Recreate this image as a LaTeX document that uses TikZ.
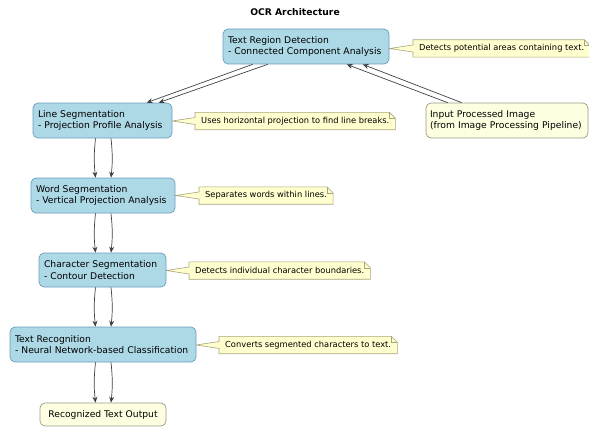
\documentclass[tikz,border=0pt]{standalone}
\usepackage{fontspec}
\setmainfont{DejaVu Sans}
\usetikzlibrary{arrows.meta,calc,backgrounds}
\definecolor{boxfill}{HTML}{ADD8E6}
\definecolor{boxline}{HTML}{6A9CBC}
\definecolor{palefill}{HTML}{FEFEE0}
\definecolor{paleline}{HTML}{9A9A8A}
\definecolor{notefill}{HTML}{FEFECE}
\definecolor{noteline}{HTML}{A8A47A}
\definecolor{arrowgrey}{HTML}{404040}
\newcommand\drawnote[2]{%
  \draw[noteshape] (#1.north west) -- ($(#1.north east)+(-6,0)$) -- ($(#1.north east)+(0,6)$) -- (#1.south east) -- (#1.south west) -- ($(#1.west)+(0,3.5)$) -- (#2.east |- #1.west) -- ($(#1.west)+(0,-3.5)$) -- cycle;
  \draw[noteshape, fill=none] ($(#1.north east)+(-6,0)$) -- ($(#1.north east)+(-6,6)$) -- ($(#1.north east)+(0,6)$);
}
\begin{document}
\begin{tikzpicture}[x=1pt,y=-1pt,
  bluebox/.style={draw=boxline, fill=boxfill, line width=0.7pt, rounded corners=5pt, align=left, inner xsep=5pt, inner ysep=0pt, font=\fontsize{9.2}{11.7}\selectfont, minimum height=35pt},
  palebox/.style={draw=paleline, fill=palefill, line width=0.7pt, rounded corners=5pt, align=left, inner xsep=5pt, inner ysep=0pt, font=\fontsize{9.2}{11.7}\selectfont, minimum height=35pt},
  notetext/.style={anchor=west, inner xsep=6pt, inner ysep=0pt, minimum height=17pt, font=\fontsize{8.3}{10}\selectfont},
  noteshape/.style={draw=noteline, fill=notefill, line width=0.6pt},
  conn/.style={draw=arrowgrey, line width=0.7pt, -{Stealth[length=6pt,width=5pt,inset=2pt]}}
]
\useasboundingbox (0,0) rectangle (589,428);

\node[font=\fontsize{9.2}{11}\selectfont\bfseries] (title) at (295,12) {OCR Architecture};

\node[bluebox, text width=156pt] (trd) at (306,46.5) {Text Region Detection\\- Connected Component Analysis};
\node[bluebox, text width=129pt] (line) at (102.5,120.5) {Line Segmentation\\- Projection Profile Analysis};
\node[bluebox, text width=134pt] (word) at (103,195.5) {Word Segmentation\\- Vertical Projection Analysis};
\node[bluebox, text width=117pt, minimum height=34pt] (char) at (102.5,270) {Character Segmentation\\- Contour Detection};
\node[bluebox, text width=176pt] (recog) at (103,344.5) {Text Recognition\\- Neural Network-based Classification};
\node[palebox, align=center, minimum width=126pt, minimum height=23pt] (out) at (103,414.5) {Recognized Text Output};
\node[palebox, text width=154pt, inner xsep=4pt] (input) at (507,120.5) {Input Processed Image\\(from Image Processing Pipeline)};

\node[notetext] (n1) at (413,48.5) {Detects potential areas containing text.};
\node[notetext] (n2) at (195,121) {Uses horizontal projection to find line breaks.};
\node[notetext] (n3) at (199,195.5) {Separates words within lines.};
\node[notetext] (n4) at (189,270.5) {Detects individual character boundaries.};
\node[notetext] (n5) at (219,345) {Converts segmented characters to text.};

\begin{scope}[on background layer]
\drawnote{n1}{trd}
\drawnote{n2}{line}
\drawnote{n3}{word}
\drawnote{n4}{char}
\drawnote{n5}{recog}
\end{scope}

\draw[conn] ($(trd.south west)+(30,0)$) -- ($(line.north west)+(114,0)$);
\draw[conn] ($(trd.south west)+(45,0)$) -- ($(line.north west)+(126,0)$);
\draw[conn] ($(input.north west)+(22,0)$) -- ($(trd.south west)+(124,0)$);
\draw[conn] ($(input.north west)+(36,0)$) -- ($(trd.south west)+(140,0)$);

\draw[conn] ($(line.south)+(-7,0)$) to[bend right=6] ($(word.north)+(-7.5,0)$);
\draw[conn] ($(line.south)+(8.5,0)$) to[bend left=6] ($(word.north)+(8,0)$);
\draw[conn] ($(word.south)+(-7.5,0)$) to[bend right=6] ($(char.north)+(-7,0)$);
\draw[conn] ($(word.south)+(8,0)$) to[bend left=6] ($(char.north)+(8.5,0)$);
\draw[conn] ($(char.south)+(-7,0)$) to[bend right=6] ($(recog.north)+(-7.5,0)$);
\draw[conn] ($(char.south)+(8.5,0)$) to[bend left=6] ($(recog.north)+(8,0)$);
\draw[conn] ($(recog.south)+(-7.5,0)$) to[bend right=6] ($(out.north)+(-7.5,0)$);
\draw[conn] ($(recog.south)+(8,0)$) to[bend left=6] ($(out.north)+(8,0)$);
\end{tikzpicture}
\end{document}
